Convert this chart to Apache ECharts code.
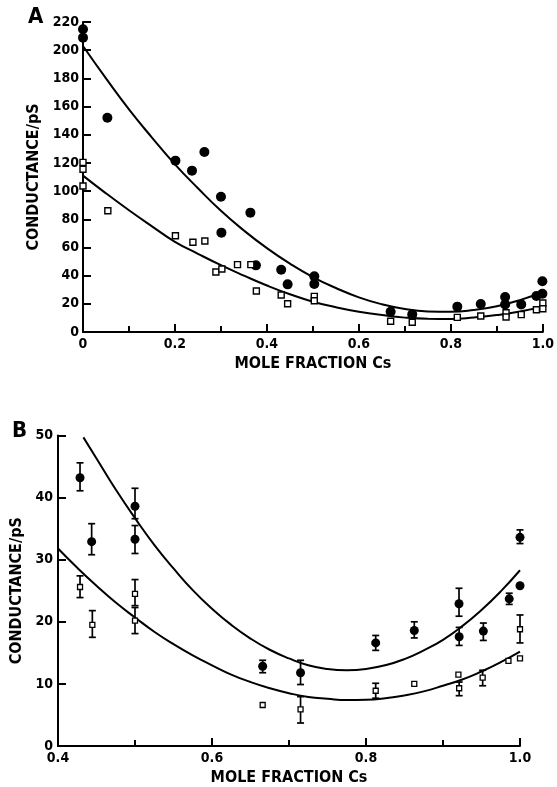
<!DOCTYPE html>
<html>
<head>
<meta charset="utf-8">
<script src="https://cdn.jsdelivr.net/npm/echarts@6/dist/echarts.min.js"></script>
<style>html,body{margin:0;padding:0;background:#fff}#c{width:557px;height:787px}</style>
</head>
<body>
<div id="c"></div>
<script>
// ---------- Panel A data ----------
const aFilled = [[0,214.8],[0,208.9],[0.053,152.1],[0.201,121.6],[0.237,114.5],[0.264,127.8],[0.300,96.0],[0.301,70.5],[0.364,84.7],[0.376,47.3],[0.431,44.2],[0.445,33.8],[0.503,39.5],[0.503,34.1],[0.669,14.4],[0.716,12.5],[0.814,18.0],[0.865,19.9],[0.918,24.8],[0.918,19.6],[0.953,19.6],[0.986,25.5],[0.999,36.0],[0.999,27.2]];
const aOpen = [[0,120.4],[0,115.5],[0,103.6],[0.054,86.1],[0.201,68.3],[0.239,63.7],[0.265,64.6],[0.289,42.6],[0.302,44.7],[0.336,47.8],[0.365,47.8],[0.377,29.1],[0.431,26.3],[0.445,20.1],[0.503,25.3],[0.503,22.2],[0.669,7.6],[0.716,6.9],[0.814,10.4],[0.865,11.4],[0.920,13.7],[0.920,10.6],[0.953,12.3],[0.986,15.8],[1.0,20.6],[1.0,16.5]];
const aCurveX = [0,0.05,0.1,0.15,0.2,0.25,0.3,0.35,0.4,0.45,0.5,0.55,0.6,0.65,0.7,0.75,0.8,0.85,0.9,0.95,1.0];
const aCurveUpper = [203,180,158,138,119,102,86,72,59.5,48.5,39,31.2,24.6,19.7,16.3,14.6,14.3,15.6,18.3,22.6,28.4];
const aCurveLower = [111,98.4,86.4,75,64,55.5,47.4,40,33,26.8,21.5,17.6,14.4,12,10.2,9.4,9.3,10.3,12,14.5,18];

// ---------- Panel B data ----------
const bFilled = [[0.4286,43.2],[0.4437,32.9],[0.5,38.6],[0.5,33.3],[0.6658,12.85],[0.715,11.8],[0.8126,16.6],[0.8627,18.6],[0.9208,22.9],[0.921,17.6],[0.9524,18.5],[0.986,23.7],[1.0,33.6],[1.0,25.8]];
const bFilledErr = [[0.4286,41.1,45.6],[0.4437,30.8,35.8],[0.5,36.6,41.5],[0.5,31.0,35.5],[0.6658,11.8,13.8],[0.715,9.9,13.8],[0.8126,15.4,17.8],[0.8627,17.4,20.0],[0.9208,20.9,25.4],[0.921,16.2,19.1],[0.9524,17.0,19.8],[0.986,22.8,24.6],[1.0,32.6,34.8]];
const bOpen = [[0.4286,25.6],[0.4446,19.5],[0.5,24.5],[0.5,20.2],[0.6658,6.6],[0.715,5.9],[0.8126,8.9],[0.8627,10.0],[0.92,11.5],[0.921,9.3],[0.9515,11.0],[0.985,13.7],[1.0,18.8],[1.0,14.1]];
const bOpenErr = [[0.4286,23.9,27.4],[0.4446,17.5,21.8],[0.5,22.6,26.8],[0.5,18.1,22.3],[0.715,3.7,7.95],[0.8126,7.7,10.1],[0.921,8.1,10.3],[0.9515,9.7,12.2],[1.0,16.6,21.1]];
const bCurveX = [0.433,0.45,0.475,0.5,0.525,0.55,0.575,0.6,0.625,0.65,0.675,0.7,0.725,0.75,0.775,0.8,0.825,0.85,0.875,0.9,0.925,0.95,0.975,1.0];
const bCurveUpper = [49.7,46.3,41.3,36.7,32.4,28.6,25.1,22.1,19.5,17.3,15.5,14.1,13.0,12.4,12.2,12.4,13.0,14.0,15.4,17.1,19.3,21.9,24.9,28.3];
const bCurveLowerX = [0.4,0.425,0.45,0.475,0.5,0.525,0.55,0.575,0.6,0.625,0.65,0.675,0.7,0.725,0.75,0.775,0.8,0.825,0.85,0.875,0.9,0.925,0.95,0.975,1.0];
const bCurveLower = [31.8,28.7,25.8,23.1,20.7,18.4,16.4,14.6,13.0,11.5,10.3,9.3,8.5,7.9,7.6,7.4,7.45,7.7,8.15,8.8,9.7,10.7,12.0,13.5,15.2];

const aYTicks = {min:0,max:220,interval:20};
const bYTicks = {min:0,max:50,interval:10};

const FONT = "'Liberation Sans Narrow','DejaVu Sans Condensed',sans-serif";
const zip = (xs, ys) => xs.map((x,i)=>[x,ys[i]]);

function xFmt(v){
  const r = Math.round(v*10);
  if (r===0) return '0';
  return (r/10).toFixed(1);
}

function axisCommon(){
  return {
    axisLine:{show:true,onZero:false,lineStyle:{color:'#000',width:2}},
    axisTick:{show:true,inside:true,length:8,lineStyle:{color:'#000',width:2}},
    splitLine:{show:false},
    axisLabel:{color:'#000',fontFamily:FONT,fontWeight:'bold',fontSize:14},
    nameTextStyle:{color:'#000',fontFamily:FONT,fontWeight:'bold',fontSize:16}
  };
}

function errRender(params, api){
  const x = api.value(0), lo = api.value(1), hi = api.value(2);
  const p1 = api.coord([x,lo]), p2 = api.coord([x,hi]);
  const w = 3.5;
  const st = {stroke:'#000',lineWidth:1.7};
  return {type:'group',children:[
    {type:'line',shape:{x1:p1[0],y1:p1[1],x2:p2[0],y2:p2[1]},style:st},
    {type:'line',shape:{x1:p1[0]-w,y1:p1[1],x2:p1[0]+w,y2:p1[1]},style:st},
    {type:'line',shape:{x1:p2[0]-w,y1:p2[1],x2:p2[0]+w,y2:p2[1]},style:st}
  ]};
}

const chart = echarts.init(document.getElementById('c'), null, {renderer:'canvas'});
const option = {
  animation:false,
  backgroundColor:'#fff',
  title:[
    {text:'A',left:28,top:6,padding:0,textStyle:{fontFamily:FONT,fontWeight:'bold',fontSize:22,color:'#000'}},
    {text:'B',left:12,top:420,padding:0,textStyle:{fontFamily:FONT,fontWeight:'bold',fontSize:22,color:'#000'}}
  ],
  grid:[
    {left:83,top:22,width:465,height:310},
    {left:58,top:435.5,width:462,height:312.5}
  ],
  xAxis:[
    Object.assign(axisCommon(),{gridIndex:0,type:'value',min:0,max:1,interval:0.2,
      minorTick:{show:true,splitNumber:2,length:6,lineStyle:{color:'#000',width:2}},
      name:'MOLE FRACTION Cs',nameLocation:'middle',nameGap:24,
      axisLabel:Object.assign(axisCommon().axisLabel,{margin:5,formatter:xFmt})}),
    Object.assign(axisCommon(),{gridIndex:1,type:'value',min:0.4,max:1.0,interval:0.2,
      minorTick:{show:true,splitNumber:2,length:6,lineStyle:{color:'#000',width:2}},
      name:'MOLE FRACTION Cs',nameLocation:'middle',nameGap:24,
      axisLabel:Object.assign(axisCommon().axisLabel,{margin:5,formatter:xFmt})})
  ],
  yAxis:[
    Object.assign(axisCommon(),{gridIndex:0,type:'value',min:aYTicks.min,max:aYTicks.max,interval:aYTicks.interval,
      name:'CONDUCTANCE/pS',nameLocation:'middle',nameGap:30,
      axisLabel:Object.assign(axisCommon().axisLabel,{margin:4})}),
    Object.assign(axisCommon(),{gridIndex:1,type:'value',min:bYTicks.min,max:bYTicks.max,interval:bYTicks.interval,
      name:'CONDUCTANCE/pS',nameLocation:'middle',nameGap:20,
      axisLabel:Object.assign(axisCommon().axisLabel,{margin:5})})
  ],
  series:[
    {type:'line',xAxisIndex:0,yAxisIndex:0,data:zip(aCurveX,aCurveUpper),smooth:true,showSymbol:false,lineStyle:{color:'#000',width:2},z:2},
    {type:'line',xAxisIndex:0,yAxisIndex:0,data:zip(aCurveX,aCurveLower),smooth:true,showSymbol:false,lineStyle:{color:'#000',width:2},z:2},
    {type:'scatter',xAxisIndex:0,yAxisIndex:0,data:aFilled,symbol:'circle',symbolSize:10,itemStyle:{color:'#000',opacity:1},z:4},
    {type:'scatter',xAxisIndex:0,yAxisIndex:0,data:aOpen,symbol:'rect',symbolSize:6,itemStyle:{color:'#fff',borderColor:'#000',borderWidth:1.4,opacity:1},z:4},

    {type:'line',xAxisIndex:1,yAxisIndex:1,data:zip(bCurveX,bCurveUpper),smooth:true,showSymbol:false,lineStyle:{color:'#000',width:2},z:2},
    {type:'line',xAxisIndex:1,yAxisIndex:1,data:zip(bCurveLowerX,bCurveLower),smooth:true,showSymbol:false,lineStyle:{color:'#000',width:2},z:2},
    {type:'custom',xAxisIndex:1,yAxisIndex:1,data:bFilledErr,renderItem:errRender,z:3},
    {type:'custom',xAxisIndex:1,yAxisIndex:1,data:bOpenErr,renderItem:errRender,z:3},
    {type:'scatter',xAxisIndex:1,yAxisIndex:1,data:bFilled,symbol:'circle',symbolSize:9,itemStyle:{color:'#000',opacity:1},z:4},
    {type:'scatter',xAxisIndex:1,yAxisIndex:1,data:bOpen,symbol:'rect',symbolSize:5,itemStyle:{color:'#fff',borderColor:'#000',borderWidth:1.3,opacity:1},z:4}
  ]
};
chart.setOption(option);
</script>
</body>
</html>
